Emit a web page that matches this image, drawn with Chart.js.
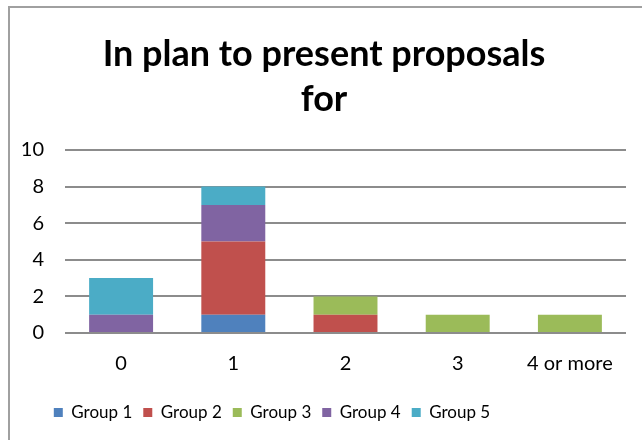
<!DOCTYPE html>
<html lang="en">
<head>
    <meta charset="UTF-8">
    <title>In plan to present proposals for</title>
    <script src="https://cdn.jsdelivr.net/npm/chart.js"></script>
    <style>
        html, body { margin: 0; padding: 0; background: #fff; }
        .wrap { position: relative; width: 642px; height: 440px; overflow: hidden; }
        .frame {
            position: absolute; left: 8px; top: 6px; width: 700px; height: 500px;
            border-left: 2px solid #a0a0a0; border-top: 2px solid #a0a0a0;
        }
        canvas { position: absolute; left: 0; top: 0; }
    </style>
</head>
<body>
    <div class="wrap">
        <div class="frame"></div>
        <canvas id="chart" width="642" height="440"></canvas>
    </div>

    <script>
        const categories = ['0', '1', '2', '3', '4 or more'];
        const group1 = [0, 1, 0, 0, 0];
        const group2 = [0, 4, 1, 0, 0];
        const group3 = [0, 0, 1, 1, 1];
        const group4 = [1, 2, 0, 0, 0];
        const group5 = [2, 1, 0, 0, 0];
        const yTicks = [0, 2, 4, 6, 8, 10];

        const font = "Lato, 'Open Sans', sans-serif";

        // the legend in the original sits left of centre, nudge it over
        const legendShift = {
            id: 'legendShift',
            afterLayout(chart) {
                const lg = chart.legend;
                if (!lg) return;
                lg.left -= 52;
                lg.right -= 52;
            }
        };

        const ctx = document.getElementById('chart').getContext('2d');
        new Chart(ctx, {
            type: 'bar',
            data: {
                labels: categories,
                datasets: [
                    { label: 'Group 1', data: group1, backgroundColor: '#4F81BD' },
                    { label: 'Group 2', data: group2, backgroundColor: '#C0504D' },
                    { label: 'Group 3', data: group3, backgroundColor: '#9BBB59' },
                    { label: 'Group 4', data: group4, backgroundColor: '#8064A2' },
                    { label: 'Group 5', data: group5, backgroundColor: '#4BACC6' }
                ]
            },
            options: {
                responsive: false,
                animation: false,
                barPercentage: 0.57,
                categoryPercentage: 1,
                layout: { padding: { left: 22, right: 16, top: 32, bottom: 9 } },
                plugins: {
                    title: {
                        display: true,
                        text: ['In plan to present proposals', 'for'],
                        color: '#000',
                        font: { family: font, size: 36, weight: 'bold', lineHeight: 1.25 },
                        padding: { top: 0, bottom: 28 }
                    },
                    legend: {
                        position: 'bottom',
                        labels: {
                            color: '#000',
                            font: { family: font, size: 17 },
                            boxWidth: 9,
                            boxHeight: 9,
                            padding: 11
                        }
                    },
                    tooltip: { enabled: false }
                },
                scales: {
                    x: {
                        stacked: true,
                        afterFit: scale => { scale.height = 60; },
                        grid: { display: false, drawTicks: false },
                        border: { display: false },
                        ticks: { color: '#000', font: { family: font, size: 20 }, padding: 19 }
                    },
                    y: {
                        stacked: true,
                        min: 0,
                        max: 10,
                        afterFit: scale => { scale.width = 43; },
                        afterBuildTicks: scale => { scale.ticks = yTicks.map(v => ({ value: v })); },
                        grid: { color: '#8c8c8c', lineWidth: 2, drawTicks: false },
                        border: { display: false },
                        ticks: { color: '#000', font: { family: font, size: 20 }, padding: 21 }
                    }
                }
            },
            plugins: [legendShift]
        });
    </script>
</body>
</html>
